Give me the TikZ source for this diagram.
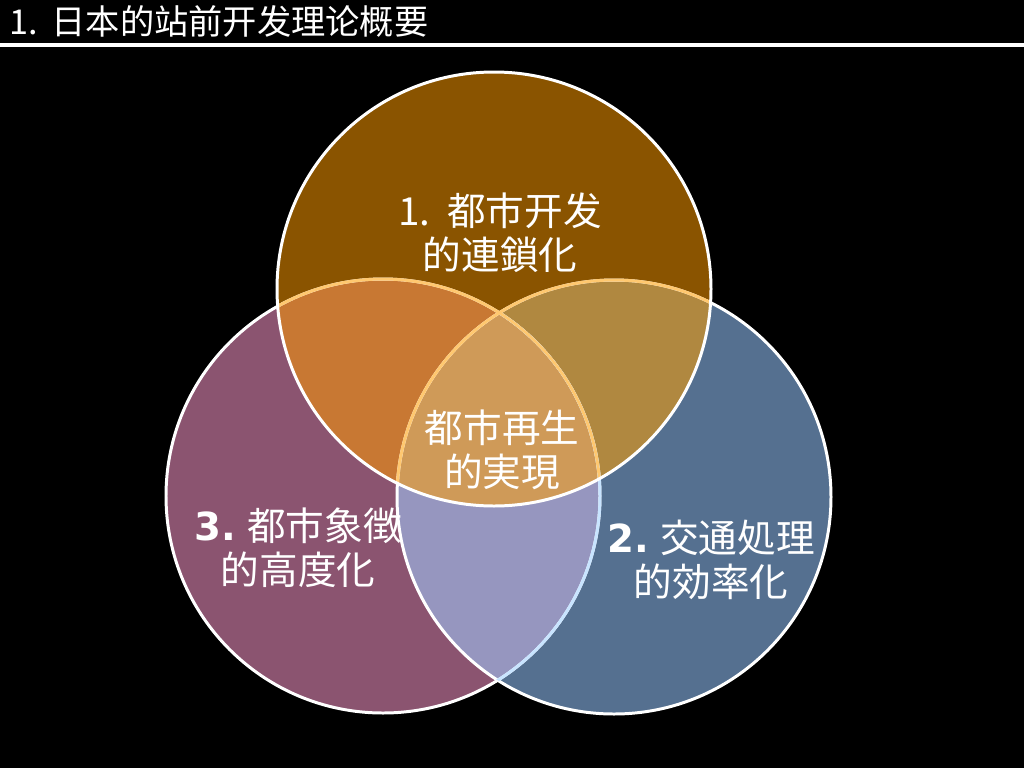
\documentclass[tikz,border=0pt]{standalone}
\usepackage{fontspec}
\newfontfamily\cjksc{Noto Sans CJK SC}
\newfontfamily\cjkjp{Noto Sans CJK JP}
\newfontfamily\numfont{DejaVu Sans}

% fill colours of the single circles and of their overlaps
\definecolor{topfill}{HTML}{8A5400}
\definecolor{leftfill}{HTML}{8B5470}
\definecolor{rightfill}{HTML}{557090}
\definecolor{tlfill}{HTML}{C87833}
\definecolor{trfill}{HTML}{B08840}
\definecolor{lrfill}{HTML}{9696BF}
\definecolor{midfill}{HTML}{CF9A58}
\definecolor{rimorange}{HTML}{FFC870}
\definecolor{rimblue}{HTML}{C8E4FF}

\begin{document}
\begin{tikzpicture}[x=0.02cm, y=-0.02cm,
	% Define the styles for the texts and the circle rims
	venntext/.style={text=white, font=\cjkjp\fontsize{22}{25}\selectfont, align=center, inner sep=0pt},
	rim/.style={line width=1.7pt}
	]
	
	% --- CANVAS ---
	\fill[black] (0,0) rectangle (1024,768);
	\useasboundingbox (0,0) rectangle (1024,768);
	
	% --- TITLE ---
	\node[anchor=west, text=white, inner sep=0pt, font=\cjksc\fontsize{19.5}{20}\selectfont] (title) at (9,21) {1.\hspace{2pt} 日本的站前开发理论概要};
	\coordinate (rule w) at (0,45);
	\coordinate (rule e) at (1024,45);
	\draw[white, line width=2pt] (rule w) -- (rule e);
	
	% --- CIRCLE CENTRES ---
	% Format: \coordinate (name) at (x,y);
	\coordinate (T) at (494,289);
	\coordinate (L) at (383,496);
	\coordinate (R) at (614,497);
	
	% --- FILLS ---
	\fill[leftfill]  (L) circle (217);
	\fill[rightfill] (R) circle (217);
	\fill[topfill]   (T) circle (217);
	
	\begin{scope} % top and left
		\clip (T) circle (217);
		\fill[tlfill] (L) circle (217);
	\end{scope}
	\begin{scope} % top and right
		\clip (T) circle (217);
		\fill[trfill] (R) circle (217);
	\end{scope}
	\begin{scope} % left and right
		\clip (L) circle (217);
		\fill[lrfill] (R) circle (217);
	\end{scope}
	\begin{scope} % all three
		\clip (T) circle (217);
		\clip (L) circle (217);
		\fill[midfill] (R) circle (217);
	\end{scope}
	
	% --- RIMS ---
	\draw[white, rim] (L) circle (217);
	\draw[white, rim] (R) circle (217);
	\begin{scope} % left rim seen through the right circle
		\clip (R) circle (217);
		\draw[rimblue, rim] (L) circle (217);
	\end{scope}
	\begin{scope} % left and right rims seen through the top circle
		\clip (T) circle (217);
		\draw[rimorange, rim] (L) circle (217);
		\draw[rimorange, rim] (R) circle (217);
	\end{scope}
	\draw[white, rim] (T) circle (217);
	
	% --- LABELS ---
	\node[venntext] (top label)   at (500,233) {1.\hspace{3pt} 都市开发\\的連鎖化};
	\node[venntext] (mid label)   at (502,450) {都市再生\\的実現};
	\node[venntext] (left label)  at (298,548) {{\numfont\bfseries 3.} 都市象徴\\的高度化};
	\node[venntext] (right label) at (711,560) {{\numfont\bfseries 2.} 交通処理\\的効率化};
	
\end{tikzpicture}
\end{document}
